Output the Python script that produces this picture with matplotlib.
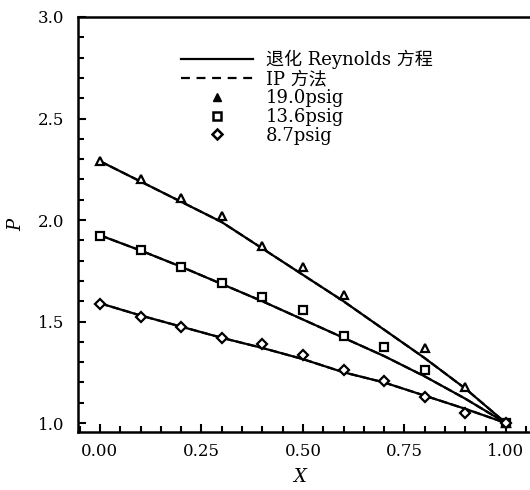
import numpy as np
import matplotlib
matplotlib.use("Agg")
import matplotlib.pyplot as plt
from matplotlib.ticker import MultipleLocator

# ---- data ----
x_pts = [0.0, 0.1, 0.2, 0.3, 0.4, 0.5, 0.6, 0.7, 0.8, 0.9, 1.0]
p_19 = [2.29, 2.20, 2.11, 2.02, 1.87, 1.77, 1.63, np.nan, 1.37, 1.18, 1.00]
p_136 = [1.92, 1.85, 1.77, 1.69, 1.62, 1.555, 1.43, 1.375, 1.26, np.nan, 1.00]
p_87 = [1.585, 1.52, 1.475, 1.42, 1.39, 1.335, 1.26, 1.205, 1.13, 1.05, 1.00]

x_line = [0.0, 0.1, 0.2, 0.3, 0.4, 0.5, 0.6, 0.7, 0.8, 0.9, 1.0]
rey_19 = [2.29, 2.19, 2.09, 1.99, 1.86, 1.73, 1.60, 1.46, 1.32, 1.17, 1.00]
rey_136 = [1.925, 1.85, 1.77, 1.685, 1.60, 1.51, 1.42, 1.33, 1.23, 1.12, 1.00]
rey_87 = [1.59, 1.53, 1.475, 1.42, 1.37, 1.315, 1.25, 1.20, 1.135, 1.07, 1.00]

legend_labels = ["退化 Reynolds 方程", "IP 方法", "19.0psig", "13.6psig", "8.7psig"]
xticks = [0.00, 0.25, 0.50, 0.75, 1.00]
yticks = [1.0, 1.5, 2.0, 2.5, 3.0]

serif = ["DejaVu Serif", "Noto Sans CJK SC"]
plt.rcParams["font.family"] = serif

fig = plt.figure(figsize=(5.3, 4.9), dpi=100)
ax = fig.add_axes([78/530, 58/490, 468.5/530, 415/490])

lw = 1.6
for r in (rey_19, rey_136, rey_87):
    ax.plot(x_line, r, color="black", lw=lw, solid_capstyle="round")
    ax.plot(x_line, r, color="black", lw=lw, ls="--")

ms = 6
ax.plot(x_pts, p_19, ls="none", marker="^", ms=ms, mfc="white", mec="black", mew=1.6)
ax.plot(x_pts, p_136, ls="none", marker="s", ms=ms, mfc="white", mec="black", mew=1.6)
ax.plot(x_pts, p_87, ls="none", marker="D", ms=5.5, mfc="white", mec="black", mew=1.6)

# legend handles
h1, = ax.plot([], [], color="black", lw=lw)
h2, = ax.plot([], [], color="black", lw=lw, ls=(0, (4, 3)))
h3, = ax.plot([], [], ls="none", marker="^", ms=6, color="black")
h4, = ax.plot([], [], ls="none", marker="s", ms=6, mfc="white", mec="black", mew=1.8)
h5, = ax.plot([], [], ls="none", marker="D", ms=5.5, mfc="white", mec="black", mew=1.8)
leg = ax.legend([h1, h2, h3, h4, h5], legend_labels, loc="upper left",
                bbox_to_anchor=(0.185, 0.96), frameon=False,
                handlelength=4.0, labelspacing=0.05, handletextpad=0.7,
                prop={"family": serif, "size": 13})

ax.set_xlim(-0.054, 1.10)
ax.set_ylim(0.956, 3.0)
ax.set_xticks(xticks)
ax.set_xticklabels([f"{t:.2f}" for t in xticks])
ax.set_yticks(yticks)
ax.set_yticklabels([f"{t:.1f}" for t in yticks])
ax.xaxis.set_minor_locator(MultipleLocator(0.05))
ax.yaxis.set_minor_locator(MultipleLocator(0.1))
ax.tick_params(which="both", direction="in", labelsize=12, width=1.5)
ax.tick_params(which="major", length=6)
ax.tick_params(which="minor", length=4)
ax.tick_params(axis="x", pad=8)
ax.tick_params(axis="y", pad=10)
for s in ax.spines.values():
    s.set_linewidth(1.8)

ax.set_xlabel("X", fontsize=13, style="italic")
ax.set_ylabel("P", fontsize=13, style="italic")
ax.xaxis.set_label_coords(0.474, -0.087)
ax.yaxis.set_label_coords(-0.113, 0.5)

fig.savefig("out.png", dpi=100)
